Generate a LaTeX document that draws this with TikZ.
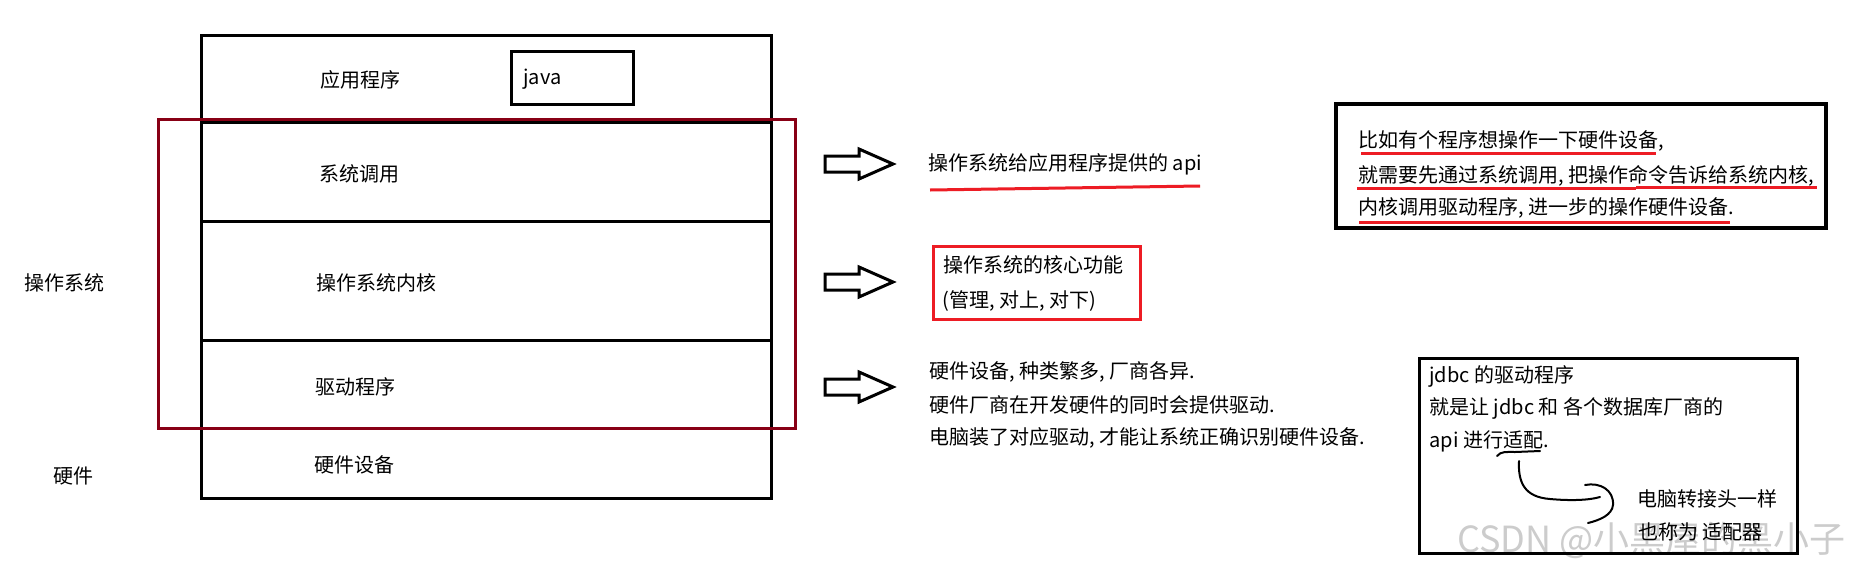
\documentclass[tikz,border=0pt]{standalone}
\usepackage{fontspec}
\setmainfont{Noto Sans CJK SC}
\definecolor{osred}{HTML}{880015}
\definecolor{paintred}{HTML}{ED1C24}
\tikzset{
  txt/.style={anchor=west,inner sep=0pt,text height=0.88em,text depth=0.12em,font=\fontsize{10pt}{12pt}\selectfont},
  blackline/.style={draw=black,line width=1.5pt},
  osframe/.style={draw=osred,line width=1.5pt},
  redline/.style={draw=paintred,line width=1.5pt},
  penline/.style={draw=black,line width=1pt,line cap=round},
  blockarrow/.pic={\draw[blackline] (0,-8) -- (34,-8) -- (34,-15) -- (68,0) -- (34,15) -- (34,8) -- (0,8) -- cycle;}
}
\begin{document}
\begin{tikzpicture}[x=0.5pt,y=-0.5pt]
\fill[white] (0,0) rectangle (1852,574);
\useasboundingbox (0,0) rectangle (1852,574);

% watermark (behind)
\node[anchor=west,inner sep=0pt,text=gray!40,font=\fontsize{18pt}{20pt}\selectfont] (wm) at (1457,540) {CSDN @小黑屋的黑小子};

% layer stack
\draw[blackline] (201,35) rectangle (771,498);
\draw[blackline] (201,122) -- (771,122);
\draw[blackline] (201,221) -- (771,221);
\draw[blackline] (201,340) -- (771,340);
\draw[osframe] (158,119) rectangle (795,428);
\draw[blackline] (511,51) rectangle (633,104);

\node[txt] (app) at (320,80) {应用程序};
\node[txt] (java) at (523,77) {java};
\node[txt] (syscall) at (319,174) {系统调用};
\node[txt] (kernel) at (316,283) {操作系统内核};
\node[txt] (driver) at (315,387) {驱动程序};
\node[txt] (hw) at (314,465) {硬件设备};
\node[txt] (oslabel) at (24,283) {操作系统};
\node[txt] (hwlabel) at (53,476) {硬件};

% block arrows
\pic at (825,164) {blockarrow};
\pic at (825,282) {blockarrow};
\pic at (825,387) {blockarrow};

% note 1
\node[txt] (apinote) at (928,163) {操作系统给应用程序提供的 api};
\draw[redline] (930,190) -- (1200,186);

% note 2
\draw[redline] (933,246) rectangle (1140,319);
\node[txt] (core1) at (943,265) {操作系统的核心功能};
\node[txt] (core2) at (942,300) {(管理, 对上, 对下)};

% note 3
\node[txt] (drv1) at (929,371) {硬件设备, 种类繁多, 厂商各异.};
\node[txt] (drv2) at (929,405) {硬件厂商在开发硬件的同时会提供驱动.};
\node[txt] (drv3) at (929,437) {电脑装了对应驱动, 才能让系统正确识别硬件设备.};

% example box
\draw[draw=black,line width=2pt] (1336,104) rectangle (1826,228);
\node[txt] (ex1) at (1358,140) {比如有个程序想操作一下硬件设备,};
\node[txt] (ex2) at (1358,175) {就需要先通过系统调用, 把操作命令告诉给系统内核,};
\node[txt] (ex3) at (1358,207) {内核调用驱动程序, 进一步的操作硬件设备.};
\draw[redline] (1361,153) -- (1656,153);
\draw[redline] (1357,188) -- (1636,188);
\draw[redline] (1636,187) -- (1817,187);
\draw[redline] (1359,222) -- (1730,222);

% jdbc box
\draw[blackline] (1419,358) rectangle (1797,553);
\node[txt] (jd1) at (1429,375) {jdbc 的驱动程序};
\node[txt] (jd2) at (1429,407) {就是让 jdbc 和 各个数据库厂商的};
\node[txt] (jd3) at (1429,440) {api 进行适配.};
\node[txt] (ad1) at (1637,499) {电脑转接头一样};
\node[txt] (ad2) at (1638,532) {也称为 适配器};

\coordinate (u1) at (1497,456);
\coordinate (u2) at (1540,451);
\draw[penline] (u1) .. controls (1501,451) and (1507,452) .. (1515,452) -- (u2);
\coordinate (c1) at (1519,461);
\coordinate (c2) at (1600,497);
\draw[penline] (c1) .. controls (1518,482) and (1524,497) .. (1550,499) .. controls (1572,501) and (1590,500) .. (c2);
\coordinate (h1) at (1585,485);
\coordinate (h2) at (1588,523);
\draw[penline] (h1) .. controls (1600,482) and (1614,490) .. (1613,505) .. controls (1612,515) and (1600,520) .. (h2);
\end{tikzpicture}
\end{document}
